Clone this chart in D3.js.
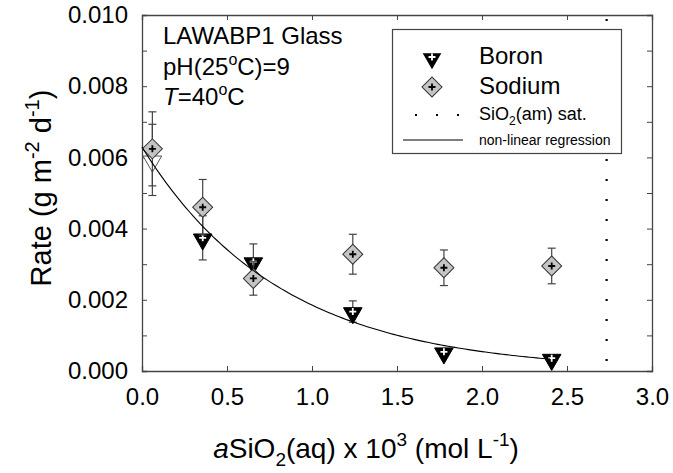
<!DOCTYPE html>
<html><head><meta charset="utf-8">
<script src="https://cdn.jsdelivr.net/npm/d3@7"></script>
<style>
html,body{margin:0;padding:0;background:#fff;}
svg{display:block;font-family:"Liberation Sans",Arial,Helvetica,sans-serif;}
</style></head>
<body><svg id="c" width="673" height="473"></svg>
<script>
// ---- data ----
const xValues      = [0.061, 0.357, 0.655, 1.24, 1.776, 2.41];
const boronRate    = [0.00593, 0.00374, 0.00307, 0.00167, 0.00054, 0.00036];
const boronErr     = [0.00100, 0.00062, 0.00050, 0.00030, 0.00005, 0.00005];
const boronOpen    = [true, false, false, false, false, false];
const sodiumRate   = [0.00624, 0.00460, 0.00260, 0.00328, 0.00290, 0.00295];
const sodiumErr    = [0.00104, 0.00078, 0.00047, 0.00056, 0.00050, 0.00050];
const satX         = 2.733;          // SiO2(am) saturation
const fitA = 0.00629, fitB = 1.223;  // non-linear regression r = A·exp(-B·x)
const fitRange = [0.0, 2.41];
const xTicks = [0, 0.5, 1.0, 1.5, 2.0, 2.5, 3.0];
const yTicks = [0, 0.002, 0.004, 0.006, 0.008, 0.010];
const yMinor = [0.001, 0.003, 0.005, 0.007, 0.009];
const notes  = ["LAWABP1 Glass", "pH(25oC)=9", "T=40oC"];
const legendLabels = ["Boron", "Sodium", "SiO2(am) sat.", "non-linear regression"];

const svg = d3.select("#c");
const L = 142, R = 652, T = 15, B = 371;
const x = d3.scaleLinear().domain([0, 3]).range([L, R]);
const y = d3.scaleLinear().domain([0, 0.010]).range([B, T]);
const frame = "#444";

// axes
const fmtX = d3.format(".1f"), fmtY = d3.format(".3f");
const gxB = svg.append("g").attr("transform", `translate(0,${B})`)
  .call(d3.axisBottom(x).tickValues(xTicks).tickFormat(fmtX).tickSize(-5).tickPadding(17));
const gxT = svg.append("g").attr("transform", `translate(0,${T})`)
  .call(d3.axisTop(x).tickValues(xTicks).tickFormat("").tickSize(-5));
const gyL = svg.append("g").attr("transform", `translate(${L},0)`)
  .call(d3.axisLeft(y).tickValues(yTicks.concat(yMinor)).tickFormat(d => yTicks.includes(d) ? fmtY(d) : "").tickSize(-5).tickPadding(14));
const gyR = svg.append("g").attr("transform", `translate(${R},0)`)
  .call(d3.axisRight(y).tickValues(yTicks.concat(yMinor)).tickFormat("").tickSize(-5));
[gxB, gxT, gyL, gyR].forEach(g => {
  g.select(".domain").attr("stroke", frame).attr("stroke-width", 1.3);
  g.selectAll(".tick line").attr("stroke", frame).attr("stroke-width", 1);
  g.selectAll(".tick text").attr("font-size", 24).attr("fill", "#000")
    .attr("font-family", '"Liberation Sans",Arial,sans-serif');
});

// axis titles
const yt = svg.append("text").attr("transform", `translate(51,188) rotate(-90)`)
  .attr("text-anchor", "middle").attr("font-size", 29).attr("fill", "#000");
yt.append("tspan").text("Rate (g m");
yt.append("tspan").attr("font-size", 20).attr("dy", -12).text("-2");
yt.append("tspan").attr("dy", 12).text(" d");
yt.append("tspan").attr("font-size", 20).attr("dy", -12).text("-1");
yt.append("tspan").attr("dy", 12).text(")");

const xt = svg.append("text").attr("x", 366).attr("y", 458)
  .attr("text-anchor", "middle").attr("font-size", 28).attr("fill", "#000");
xt.append("tspan").attr("font-style", "italic").text("a");
xt.append("tspan").text("SiO");
xt.append("tspan").attr("font-size", 19).attr("dy", 8).text("2");
xt.append("tspan").attr("dy", -8).text("(aq) x 10");
xt.append("tspan").attr("font-size", 19).attr("dy", -12).text("3");
xt.append("tspan").attr("dy", 12).text(" (mol L");
xt.append("tspan").attr("font-size", 19).attr("dy", -12).text("-1");
xt.append("tspan").attr("dy", 12).text(")");

// saturation dotted line
svg.append("line").attr("x1", x(satX)).attr("x2", x(satX)).attr("y1", y(0.01) + 4).attr("y2", B)
  .attr("stroke", "#000").attr("stroke-width", 2.2).attr("stroke-dasharray", "2,18");

// markers
const tri = d3.symbol().type(d3.symbolTriangle).size(150)();
const dia = d3.symbol().type(d3.symbolSquare).size(200)();
function plus(g, col) {
  g.append("path").attr("d", "M-3.5,0H3.5M0,-3.5V3.5").attr("stroke", col).attr("stroke-width", 1.8);
}
function errbars(vals, errs, col) {
  vals.forEach((v, i) => {
    const g = svg.append("g").attr("stroke", col).attr("stroke-width", 1.2);
    const cx = x(xValues[i]);
    g.append("line").attr("x1", cx).attr("x2", cx).attr("y1", y(v - errs[i])).attr("y2", y(v + errs[i]));
    [v - errs[i], v + errs[i]].forEach(e =>
      g.append("line").attr("x1", cx - 4).attr("x2", cx + 4).attr("y1", y(e)).attr("y2", y(e)));
  });
}
errbars(boronRate, boronErr, "#444");
boronRate.forEach((v, i) => {
  const g = svg.append("g").attr("transform", `translate(${x(xValues[i])},${y(v)})`);
  g.append("path").attr("d", tri).attr("transform", "translate(0,1.5) rotate(180)")
    .attr("fill", boronOpen[i] ? "#fff" : "#000").attr("stroke", boronOpen[i] ? "#555" : "#000").attr("stroke-width", 1);
  if (!boronOpen[i]) plus(g, "#fff");
});
errbars(sodiumRate, sodiumErr, "#444");
sodiumRate.forEach((v, i) => {
  const g = svg.append("g").attr("transform", `translate(${x(xValues[i])},${y(v)})`);
  g.append("path").attr("d", dia).attr("transform", "rotate(45)")
    .attr("fill", "#c4c4c4").attr("stroke", "#333").attr("stroke-width", 1);
  plus(g, "#000");
});

// regression curve
const fitXs = d3.range(fitRange[0], fitRange[1] + 1e-9, 0.02);
svg.append("path").datum(fitXs)
  .attr("d", d3.line().x(d => x(d)).y(d => y(fitA * Math.exp(-fitB * d))))
  .attr("fill", "none").attr("stroke", "#000").attr("stroke-width", 1.1);

// annotations
const n0 = svg.append("text").attr("x", 163).attr("y", 44).attr("font-size", 24).text(notes[0]);
const n1 = svg.append("text").attr("x", 163).attr("y", 75).attr("font-size", 24);
n1.append("tspan").text("pH(25");
n1.append("tspan").attr("font-size", 16).attr("dy", -10).text("o");
n1.append("tspan").attr("dy", 10).text("C)=9");
const n2 = svg.append("text").attr("x", 163).attr("y", 105).attr("font-size", 24);
n2.append("tspan").attr("font-style", "italic").text("T");
n2.append("tspan").text("=40");
n2.append("tspan").attr("font-size", 16).attr("dy", -10).text("o");
n2.append("tspan").attr("dy", 10).text("C");

// legend
const lg = svg.append("g");
lg.append("rect").attr("x", 392.5).attr("y", 29.5).attr("width", 229).attr("height", 124)
  .attr("fill", "#fff").attr("stroke", frame).attr("stroke-width", 1.2);
const lb = lg.append("g").attr("transform", "translate(432,57)");
lb.append("path").attr("d", tri).attr("transform", "translate(0,1.5) rotate(180)").attr("fill", "#000");
plus(lb, "#fff");
const ls = lg.append("g").attr("transform", "translate(432,87)");
ls.append("path").attr("d", dia).attr("transform", "rotate(45)").attr("fill", "#c4c4c4").attr("stroke", "#333");
plus(ls, "#000");
lg.append("text").attr("x", 479).attr("y", 64).attr("font-size", 24).text(legendLabels[0]);
lg.append("text").attr("x", 479).attr("y", 94).attr("font-size", 24).text(legendLabels[1]);
lg.append("line").attr("x1", 415).attr("x2", 460).attr("y1", 115).attr("y2", 115)
  .attr("stroke", "#000").attr("stroke-width", 2.2).attr("stroke-dasharray", "2,19");
const st = lg.append("text").attr("x", 479).attr("y", 120).attr("font-size", 18);
st.append("tspan").text("SiO");
st.append("tspan").attr("font-size", 12).attr("dy", 5).text("2");
st.append("tspan").attr("dy", -5).text("(am) sat.");
lg.append("line").attr("x1", 403).attr("x2", 463).attr("y1", 140).attr("y2", 140)
  .attr("stroke", "#000").attr("stroke-width", 1.1);
lg.append("text").attr("x", 479).attr("y", 145).attr("font-size", 14).text(legendLabels[3]);
</script></body></html>
